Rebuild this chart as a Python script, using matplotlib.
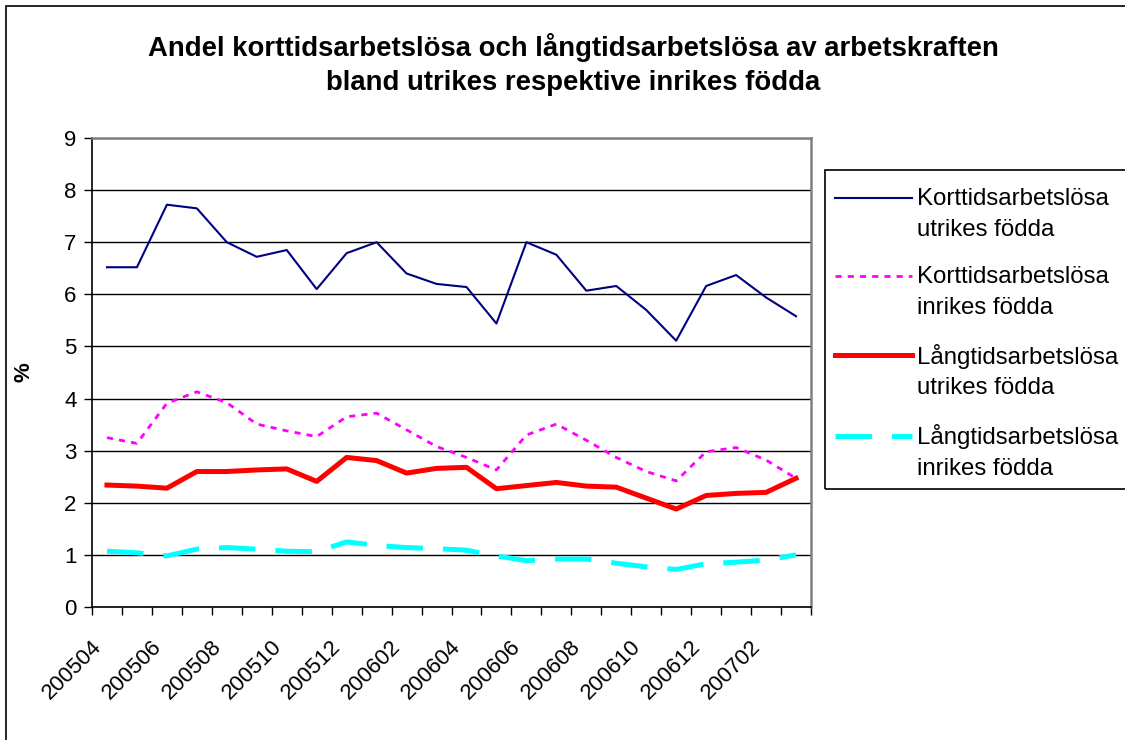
import numpy as np
import matplotlib
matplotlib.use("Agg")
import matplotlib.pyplot as plt
import matplotlib.patches as mpatches
from matplotlib.transforms import ScaledTranslation
from matplotlib.legend_handler import HandlerLine2D

# månader (kategorier)
months = ["200504", "200505", "200506", "200507", "200508", "200509",
          "200510", "200511", "200512", "200601", "200602", "200603",
          "200604", "200605", "200606", "200607", "200608", "200609",
          "200610", "200611", "200612", "200701", "200702", "200703"]

# Korttidsarbetslösa utrikes födda
kort_utrikes = [6.52, 6.52, 7.72, 7.65, 7.00, 6.72, 6.85, 6.10, 6.79, 7.00,
                6.40, 6.20, 6.14, 5.44, 7.00, 6.76, 6.07, 6.16, 5.70, 5.11,
                6.16, 6.37, 5.94, 5.58]
# Korttidsarbetslösa inrikes födda
kort_inrikes = [3.25, 3.14, 3.91, 4.13, 3.92, 3.51, 3.38, 3.27, 3.65, 3.72,
                3.40, 3.08, 2.87, 2.63, 3.30, 3.51, 3.20, 2.87, 2.60, 2.42,
                2.98, 3.06, 2.82, 2.47]
# Långtidsarbetslösa utrikes födda
lang_utrikes = [2.34, 2.32, 2.28, 2.60, 2.60, 2.63, 2.65, 2.41, 2.87, 2.81,
                2.57, 2.66, 2.68, 2.27, 2.33, 2.39, 2.32, 2.30, 2.09, 1.88,
                2.14, 2.18, 2.20, 2.47]
# Långtidsarbetslösa inrikes födda
lang_inrikes = [1.07, 1.04, 0.98, 1.11, 1.14, 1.11, 1.07, 1.06, 1.25, 1.18,
                1.14, 1.12, 1.09, 0.98, 0.89, 0.92, 0.92, 0.84, 0.77, 0.72,
                0.83, 0.86, 0.90, 1.00]

labels = ["Korttidsarbetslösa\nutrikes födda",
          "Korttidsarbetslösa\ninrikes födda",
          "Långtidsarbetslösa\nutrikes födda",
          "Långtidsarbetslösa\ninrikes födda"]


# legendlinjen i höjd med första textraden (som i Excel)
class UpperLineHandler(HandlerLine2D):
    def create_artists(self, legend, orig_handle, xdescent, ydescent,
                       width, height, fontsize, trans):
        arts = super().create_artists(legend, orig_handle, xdescent, ydescent,
                                      width, height, fontsize, trans)
        for a in arts:
            a.set_ydata(np.asarray(a.get_ydata()) + 0.68 * fontsize)
        return arts


plt.rcParams['font.family'] = ['Liberation Sans', 'DejaVu Sans']

fig = plt.figure(figsize=(11.25, 7.4), dpi=100)
ax = fig.add_axes([92 / 1125, 1 - 607 / 740, (811 - 92) / 1125, (607 - 138) / 740])

x = np.arange(len(months))

l1, = ax.plot(x, kort_utrikes, color="#000080", lw=1.5)
l2, = ax.plot(x, kort_inrikes, color="#FF00FF", lw=2.0, linestyle=(0, (2.2, 2.2)))
l3, = ax.plot(x, lang_utrikes, color="#FF0000", lw=3.6)
l4, = ax.plot(x, lang_inrikes, color="#00FFFF", lw=3.6, linestyle=(0, (7.3, 4)))

# axlar
ax.set_xlim(-0.5, len(months) - 0.5)
ax.set_ylim(0, 9)
ax.set_yticks(range(0, 10))
ax.yaxis.grid(True, color="#000000", lw=1.0)
ax.set_axisbelow(True)

ax.set_xticks(np.arange(-0.5, len(months), 1.0))
ax.set_xticklabels([])
ax.set_xticks(x[::2], minor=True)
ax.set_xticklabels(months[::2], minor=True, rotation=45, ha="right",
                   va="top", rotation_mode="anchor", fontsize=16)
ax.tick_params(axis="x", which="major", direction="out", length=6, width=1)
ax.tick_params(axis="x", which="minor", length=0, pad=21)
ax.tick_params(axis="y", direction="out", length=6, width=1, labelsize=16, pad=5)

shift = ScaledTranslation(-16 / 100, 0, fig.dpi_scale_trans)
for lab in ax.get_xticklabels(minor=True):
    lab.set_transform(lab.get_transform() + shift)

for s in ["top", "right"]:
    ax.spines[s].set_color("#808080")
    ax.spines[s].set_linewidth(1.8)
for s in ["left", "bottom"]:
    ax.spines[s].set_color("#000000")
    ax.spines[s].set_linewidth(1.2)

ax.set_ylabel("%", fontsize=16, fontweight="bold")
ax.yaxis.set_label_coords((34 - 92) / 719, 0.5)

fig.suptitle("Andel korttidsarbetslösa och långtidsarbetslösa av arbetskraften\n"
             "bland utrikes respektive inrikes födda",
             x=573 / 1125, y=1 - 33 / 740, fontsize=19.8, fontweight="bold",
             linespacing=1.4, va="top")

# legend utan egen ram, ramen ritas separat
leg = fig.legend([l1, l2, l3, l4], labels, loc="upper left",
                 bbox_to_anchor=(835 / 1125, 1 - 188 / 740), fontsize=17.3,
                 frameon=False, handlelength=3.2, handletextpad=0.2,
                 labelspacing=1.04, borderpad=0, borderaxespad=0,
                 handler_map={matplotlib.lines.Line2D: UpperLineHandler()})
for t in leg.get_texts():
    t.set_linespacing(1.52)

fig.patches.append(mpatches.Rectangle((825 / 1125, 1 - 489 / 740), 0.5,
                                      (489 - 170) / 740,
                                      transform=fig.transFigure, fill=False,
                                      edgecolor="#000000", lw=1.2))

# yttre ram
fig.patches.append(mpatches.Rectangle((6 / 1125, -0.1), 1.2, 1.1 - 6 / 740,
                                      transform=fig.transFigure, fill=False,
                                      edgecolor="#000000", lw=1.2))

plt.savefig("out.png", dpi=100)
